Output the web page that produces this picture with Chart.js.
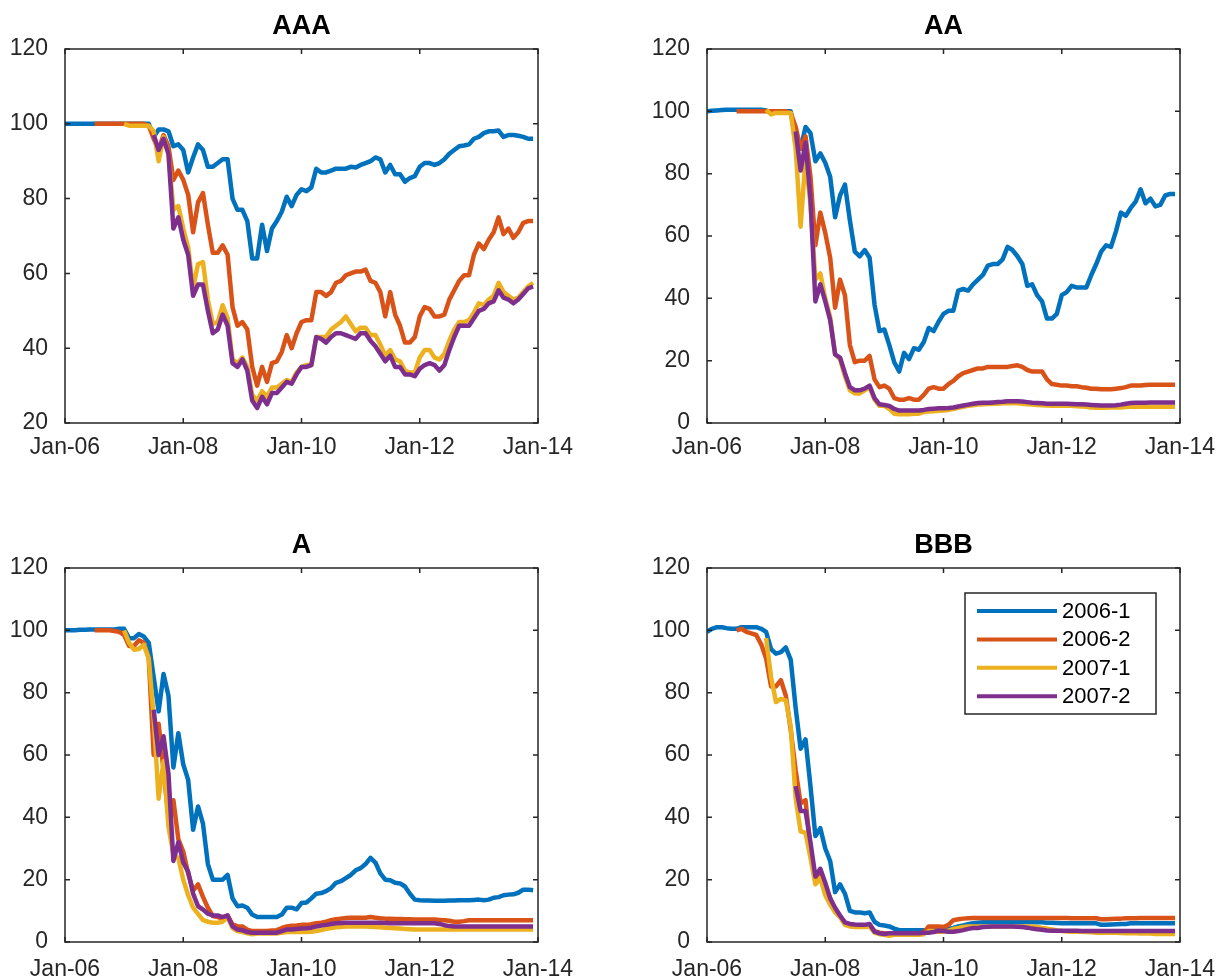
<!DOCTYPE html>
<html lang="en">
<head>
  <meta charset="UTF-8">
  <title>Vintage performance by rating</title>
  <style>
    html, body { margin: 0; padding: 0; background: #fff; overflow: hidden; }
    body { position: relative; width: 1218px; height: 980px; }
    canvas { position: absolute; }
  </style>
</head>
<body>
  <canvas id="cAAA" width="609" height="490" style="left:0;top:0"></canvas>
  <canvas id="cAA" width="590" height="490" style="left:642px;top:0"></canvas>
  <canvas id="cA" width="609" height="461" style="left:0;top:519px"></canvas>
  <canvas id="cBBB" width="590" height="461" style="left:642px;top:519px"></canvas>

  <script src="https://cdn.jsdelivr.net/npm/chart.js"></script>
  <script>
    // x axis = months since Jan-06 (monthly data up to Dec-13)
    const tickLabels = ['Jan-06', 'Jan-08', 'Jan-10', 'Jan-12', 'Jan-14'];
    const vintages = ['2006-1', '2006-2', '2007-1', '2007-2'];
    const vintageStart = [0, 6, 12, 18];   // first month of each vintage

    // AAA
    const aaa06_1 = [100,100,100,100,100,100,100,100,100,100,100,100,100,100,100,100,100,
      100,96.5,98.5,98.5,98,94,94.5,93,87,91,
      94.5,93,88.5,88.5,89.5,90.5,90.5,80,77,77,
      74,64,64,73,66,72,74,76.5,80.5,78,
      81,82.5,82,83,88,87,87,87.5,88,88,
      88,88.5,88.3,89,89.5,90,91,90.5,87,89,
      86.5,86.5,84.5,85.5,86,88.5,89.5,89.5,89,89.5,
      90.5,92,93,94,94.2,94.5,96,96.5,97.5,98,
      98,98.2,96.5,97,97,96.8,96.5,96,96];
    const aaa06_2 = [100,100,100,100,100,100,100,100,100,100,100,
      99.5,96,93,97,94,85,87.5,85,81,71,
      79,81.5,73,65.5,65.5,67.5,65,51,46,47,
      45,35,30,35,31,36,36.5,39,43.5,40,
      44,47,47.5,47.5,55,55,54,55,57.5,58,
      59.5,60,60.5,60.5,61,58,57.5,55,48.5,55,
      49,46,41.5,41.5,43,48.5,51,50.5,48.5,48.5,
      49,53,55.5,58,59.5,59.5,65,68,66.5,69,
      71,75,70.5,72,69.5,71,73.5,74,74];
    const aaa07_1 = [100,99.5,99.5,99.5,99.5,
      99.5,98,90,96.5,92,77,78,72,67,56,
      62.5,63,53,46.5,47,51.5,48,37,36,37.5,
      35,27.5,26,28.5,27,29.5,29.5,30.5,31.5,31,
      33.5,35,35.5,35.5,43,43,43,45,46,47,
      48.5,46.5,44.5,45.5,45.5,43.5,43.5,41,38,39.5,
      37,36.5,34,33.5,33.5,37.5,39.5,39.5,37.5,37,
      38.5,42,45,47,47,47.5,49.5,52,51.5,53,
      54,57.5,55,54,53,53.5,55,56.5,57.5];
    const aaa07_2 = [97,93,96,92,72,75,69,65,54,
      57,57,50,44,45,49,46,36,35,37,
      34,26,24,27,25,28,28,29.5,31,30.5,
      33,35,35,35.5,43,42.5,41.5,43,44,44,
      43.5,43,42.5,44,44,42,40.5,38.5,36.5,38,
      35,35,33,33,32.5,34.5,35.5,36,35.5,34,
      35.5,39.5,43,46,46,46,48,50,50.5,52,
      52.5,55.5,53.5,53,52,53,54.5,56,56.5];

    // AA
    const aa06_1 = [100,100.2,100.3,100.4,100.5,100.5,100.5,100.5,100.5,100.5,100.5,100.5,100.3,
      99.5,100,100,100,
      100,91,88,95,93,84,86.5,83.5,79,66,
      73,76.5,65,55,53.5,55.5,53,38,29.5,30,
      25,19.5,16.5,22.5,20.5,24,23.5,26,30.5,29.5,
      32.5,35,36,36,42.5,43,42.5,44.5,46,47.5,
      50.5,51,51,52.5,56.5,55.5,53.5,51,44,44.5,
      41,39,33.5,33.5,35,41,42,44,43.5,43.5,
      43.5,47.5,51,55,57,56.5,61.5,67.5,66.5,69,
      71,75,70.5,72,69.5,70,73,73.5,73.5];
    const aa06_2 = [100,100,100,100,100,100,100,100,100,100,100,
      99.5,95,88,92,79,57,67.5,61,53,37,
      46,41,25,19.5,20,20,21.5,14,11.5,12,
      11,8,7.5,7.5,8,7.5,7.5,9,11,11.5,
      11,11,12.5,13.5,15,16,16.5,17,17.5,17.5,
      18,18,18,18,18,18.3,18.5,18,17,16.5,
      16.5,16.5,14,12.5,12.3,12,12,11.8,11.8,11.5,
      11.3,11,11,10.8,10.8,10.8,11,11.2,11.5,12,
      12,12,12.2,12.3,12.3,12.3,12.3,12.3,12.3];
    const aa07_1 = [100.5,99,99.5,99.5,99.5,
      99.5,88,63,85,70,46,48,40,34,22,
      20.5,15,10.5,9.5,9.5,10.5,11.5,7.5,5.5,5.5,
      4.5,3,2.8,2.8,2.8,3,3,3.5,3.7,3.8,
      3.9,4,4.2,4.5,4.9,5.2,5.5,5.7,5.9,6,
      6.1,6.2,6.2,6.3,6.3,6.3,6.3,6.2,6,5.9,
      5.8,5.7,5.6,5.5,5.5,5.5,5.5,5.5,5.4,5.3,
      5.2,5,4.9,4.9,4.9,5,5,5,5.1,5.2,
      5.2,5.2,5.2,5.2,5.2,5.2,5.2,5.2,5.2];
    const aa07_2 = [93.5,81,90,72,39,44.5,39,33,22,
      21,16,11.5,10.5,10.5,11,12,8,6,5.8,
      5.5,4.5,4,4,4,4,4,4.2,4.5,4.6,
      4.7,4.7,4.8,5,5.3,5.6,5.9,6.2,6.4,6.5,
      6.5,6.6,6.7,6.8,7,7,7,6.9,6.7,6.5,
      6.4,6.3,6.2,6.2,6.2,6.2,6.2,6.1,6,6,
      5.9,5.8,5.7,5.6,5.6,5.6,5.7,5.9,6.2,6.4,
      6.5,6.5,6.5,6.6,6.6,6.6,6.6,6.6,6.6];

    // A
    const a06_1 = [100,100,100,100.2,100.2,100.3,100.3,100.3,100.3,100.3,100.3,100.5,100.5,
      97.5,97.5,98.8,98,
      96,85,74,86,79,56,67,57,52,36,
      43.5,38,25,20,20,20,21.5,14,11.5,11.7,
      11,8.8,8,8,8,8,8,8.8,11,11,
      10.5,12.5,12.7,14,15.5,15.7,16.3,17.3,19,19.5,
      20.5,21.5,23,23.7,25,27,25.5,22,20,19.8,
      19,18.8,17.8,15.5,13.6,13.4,13.3,13.3,13.2,13.2,
      13.2,13.3,13.3,13.4,13.4,13.4,13.5,13.6,13.4,13.6,
      14.2,14.4,15,15.2,15.3,15.8,16.8,16.8,16.6];
    const a06_2 = [100,100,100,100,99.8,99.5,98.5,95,95,96.8,96,
      91,60,70,55,40,45.5,33,29,22,16.5,
      18.5,14.5,11,8.3,8,7.5,8.5,5.7,5,5,
      4,3.5,3.5,3.5,3.5,3.7,3.8,4.5,5,5.2,
      5.3,5.5,5.5,5.7,6,6.2,6.5,7,7.3,7.5,
      7.7,7.8,7.8,7.8,7.8,8,7.8,7.6,7.5,7.5,
      7.4,7.4,7.3,7.3,7.2,7.2,7.2,7.2,7.2,7.1,
      7,6.8,6.5,6.5,6.7,7,7,7,7,7,
      7,7,7,7,7,7,7,7,7];
    const a07_1 = [100,96,93.8,94,95.4,
      91,72,46,58,37,28,27,20,15,11,
      9,7,6.5,6.2,6.2,6.5,8,4.5,3.5,3.2,
      2.8,2.5,2.7,2.7,2.7,2.7,2.7,3,3.2,3.2,
      3.2,3.2,3.2,3.3,3.5,3.8,4.2,4.5,4.7,4.8,
      5,5,5,5,5,4.9,4.8,4.7,4.6,4.5,
      4.4,4.3,4.2,4.1,4,4,4,4,4,4,
      4,4,4,4,4,4,4,4,4,4,
      4,4,4,4,4,4,4,4,4];
    const a07_2 = [74.5,60,66,54,26,32,25.5,22.5,15.5,
      11.5,10.4,9.1,8.5,8.5,8,8.5,5,4,3.8,
      3.2,3,3,3,3,3,3,3.5,4,4,
      4.2,4.3,4.4,4.6,5,5.3,5.5,5.8,6,6.1,
      6.2,6.2,6.2,6.2,6.2,6.2,6.2,6.2,6.1,6,
      6,6,6,6,6,6,6,6,6,5.8,
      5.4,5.1,5,5,5,5,5,5,5,5,
      5,5,5,5,5,5,5,5,5];

    // BBB
    const bbb06_1 = [99.5,100.5,101,101,100.7,100.5,100.5,101,101,101,101,100.5,99.5,94,92.5,93,94.5,
      90.5,75,62,65,50,34,36.5,30,26,16,
      18.5,15.5,10,9.5,9.5,9.2,9.5,6.5,5.5,5.3,
      5,4.3,3.8,3.8,3.8,3.8,3.8,3.8,3.8,3.8,
      3.8,4,4.2,4.5,5,5.3,5.7,6,6.2,6.3,
      6.3,6.3,6.3,6.3,6.3,6.3,6.3,6.3,6.3,6.3,
      6.3,6.3,6.2,6.2,6.1,6,6,6,6,6,
      6,6,6,5.5,5.5,5.6,5.7,5.8,5.8,6,
      6,6,6,6,6,6,6,6,6];
    const bbb06_2 = [100,100.5,99.5,99,98.5,95.5,91,82,82,84,79,
      68,55,44.5,45.5,30,20,22.7,18,14,10,
      8.2,6.1,5.5,5.3,5.3,5.3,5.5,3.5,3,2.8,
      2.7,2.8,2.8,2.8,2.8,2.8,2.8,3,5,5,
      5,4.8,5.5,7,7.3,7.5,7.6,7.7,7.7,7.7,
      7.7,7.7,7.7,7.7,7.7,7.7,7.7,7.7,7.7,7.7,
      7.7,7.7,7.7,7.7,7.7,7.7,7.7,7.6,7.6,7.6,
      7.6,7.6,7.6,7.3,7.3,7.4,7.5,7.5,7.6,7.6,
      7.6,7.7,7.7,7.7,7.7,7.7,7.7,7.7,7.7];
    const bbb07_1 = [97.5,85,77,78,77.5,
      69,46,35.5,35,27,18.5,20.5,15,12,9.5,
      8,5.5,5,4.8,4.8,4.8,5,3,2.5,2.3,
      2,2.3,2.3,2.3,2.3,2.3,2.3,2.5,3.5,3.5,
      3.3,3.3,3.6,4.2,4.5,4.8,5,5,5,5,
      5,5,5,5,5,5,5,5,5,5,
      4.8,4.5,4.3,4,3.7,3.5,3.4,3.3,3.3,3.3,
      3.2,3.1,3,3,3,3,3,2.9,2.8,2.8,
      2.8,2.7,2.7,2.7,2.6,2.6,2.6,2.6,2.6];
    const bbb07_2 = [50,42,42,32,21,23.5,19,14,11,
      8.5,6.3,5.8,5.6,5.5,5.5,5.8,3.3,2.8,2.6,
      2.8,2.8,2.8,2.8,2.8,2.8,2.8,3,3,3.2,
      3.6,3.5,3.3,3.3,3.5,3.8,4.2,4.5,4.5,4.8,
      4.9,5,5,5,5,5,4.9,4.8,4.6,4.3,
      4.1,3.9,3.7,3.6,3.6,3.6,3.6,3.6,3.6,3.5,
      3.5,3.5,3.5,3.5,3.5,3.5,3.5,3.5,3.5,3.5,
      3.5,3.5,3.5,3.5,3.5,3.5,3.5,3.5,3.5];

    const colors = ['#0072BD', '#D95319', '#EDB120', '#7E2F8E'];
    const FONT = '"Liberation Sans", Arial, Helvetica, sans-serif';
    const axisColor = '#262626';

    function series(values, k) {
      return {
        label: vintages[k],
        data: values.map((v, i) => ({ x: vintageStart[k] + i, y: v })),
        borderColor: colors[k],
        backgroundColor: colors[k],
        borderWidth: 4.5,
        borderJoinStyle: 'round',
        pointRadius: 0,
        tension: 0,
        order: 3 - k   // later vintages on top, like matlab
      };
    }

    // box around the axes with inward ticks on all four sides
    const frame = {
      id: 'frame',
      afterDatasetsDraw(chart) {
        const { ctx, chartArea: a, scales } = chart;
        const tl = 5;
        ctx.save();
        ctx.strokeStyle = axisColor;
        ctx.lineWidth = 1.5;
        ctx.strokeRect(a.left, a.top, a.right - a.left, a.bottom - a.top);
        ctx.beginPath();
        scales.x.ticks.forEach(t => {
          const px = scales.x.getPixelForValue(t.value);
          ctx.moveTo(px, a.bottom); ctx.lineTo(px, a.bottom - tl);
          ctx.moveTo(px, a.top); ctx.lineTo(px, a.top + tl);
        });
        scales.y.ticks.forEach(t => {
          const py = scales.y.getPixelForValue(t.value);
          ctx.moveTo(a.left, py); ctx.lineTo(a.left + tl, py);
          ctx.moveTo(a.right, py); ctx.lineTo(a.right - tl, py);
        });
        ctx.stroke();
        ctx.restore();
      }
    };

    // matlab style legend box, top right inside the axes
    const boxLegend = {
      id: 'boxLegend',
      afterDraw(chart) {
        const { ctx, chartArea: a } = chart;
        const w = 191, h = 121;
        const x0 = a.right - 24 - w, y0 = a.top + 25;
        ctx.save();
        ctx.fillStyle = '#fff';
        ctx.fillRect(x0, y0, w, h);
        ctx.strokeStyle = axisColor;
        ctx.lineWidth = 1.5;
        ctx.strokeRect(x0, y0, w, h);
        ctx.font = '22px ' + FONT;
        ctx.textBaseline = 'middle';
        chart.data.datasets.forEach((ds, i) => {
          const y = y0 + 18 + i * 28.4;
          ctx.strokeStyle = ds.borderColor;
          ctx.lineWidth = 4;
          ctx.beginPath();
          ctx.moveTo(x0 + 12, y);
          ctx.lineTo(x0 + 92, y);
          ctx.stroke();
          ctx.fillStyle = '#000';
          ctx.fillText(ds.label, x0 + 97, y + 1);
        });
        ctx.restore();
      }
    };

    function makeChart(id, title, sets, yMin, rightPad, xHeight, xPad, withLegend) {
      return new Chart(document.getElementById(id), {
        type: 'line',
        data: { datasets: sets.map(series) },
        options: {
          responsive: false,
          animation: false,
          events: [],
          layout: { padding: { left: 0, right: rightPad, top: 0, bottom: 0 } },
          scales: {
            x: {
              type: 'linear', min: 0, max: 96,
              grid: { display: false, drawTicks: false },
              border: { display: false },
              ticks: {
                stepSize: 24, autoSkip: false, maxRotation: 0, padding: xPad,
                color: axisColor, font: { family: FONT, size: 23 },
                callback: v => tickLabels[v / 24]
              },
              afterFit: s => { s.height = xHeight; }
            },
            y: {
              min: yMin, max: 120,
              grid: { display: false, drawTicks: false },
              border: { display: false },
              ticks: {
                stepSize: 20, padding: 17,
                color: axisColor, font: { family: FONT, size: 23 }
              },
              afterFit: s => { s.width = 65; }
            }
          },
          plugins: {
            legend: { display: false },
            tooltip: { enabled: false },
            title: {
              display: true, text: title, fullSize: false, color: '#000',
              font: { family: FONT, size: 27, weight: 'bold' },
              padding: { top: 10, bottom: 6.6 }
            }
          }
        },
        plugins: withLegend ? [frame, boxLegend] : [frame]
      });
    }

    makeChart('cAAA', 'AAA', [aaa06_1, aaa06_2, aaa07_1, aaa07_2], 20, 71, 67, 11, false);
    makeChart('cAA', 'AA', [aa06_1, aa06_2, aa07_1, aa07_2], 0, 52, 67, 11, false);
    makeChart('cA', 'A', [a06_1, a06_2, a07_1, a07_2], 0, 71, 38, 14, false);
    makeChart('cBBB', 'BBB', [bbb06_1, bbb06_2, bbb07_1, bbb07_2], 0, 52, 38, 14, true);
  </script>
</body>
</html>
